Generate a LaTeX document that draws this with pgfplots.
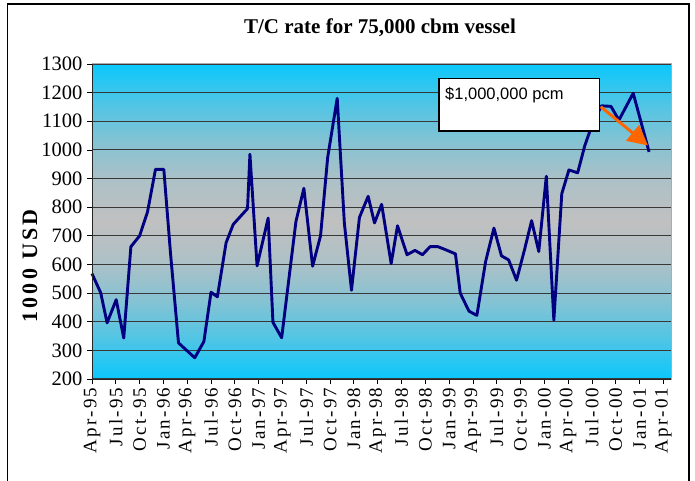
\documentclass[border=0pt]{standalone}
\usepackage{fontspec}
\setmainfont{Liberation Serif}
\newfontfamily\arialfont{Liberation Sans}
\newfontfamily\xtickfont[LetterSpace=12]{Liberation Serif}
\newfontfamily\ylabfont[LetterSpace=15]{Liberation Serif}
\usepackage{pgfplots}
\pgfplotsset{compat=1.18}
\usetikzlibrary{arrows.meta}
\definecolor{bgcyan}{RGB}{10,200,252}
\definecolor{bggray}{RGB}{192,192,192}
\definecolor{navyline}{RGB}{0,0,128}
\definecolor{arroworange}{RGB}{255,102,0}
\pgfdeclareverticalshading{excelgrad}{100bp}{%
 color(0bp)=(bgcyan); color(25bp)=(bgcyan);
 color(31.25bp)=(bggray!38!bgcyan); color(37.5bp)=(bggray!68!bgcyan);
 color(43.75bp)=(bggray!90!bgcyan); color(50bp)=(bggray);
 color(56.25bp)=(bggray!90!bgcyan); color(62.5bp)=(bggray!68!bgcyan);
 color(68.75bp)=(bggray!38!bgcyan); color(75bp)=(bgcyan); color(100bp)=(bgcyan)}
\begin{document}
\begin{tikzpicture}
\useasboundingbox (0,0) rectangle (695bp,481bp);
% outer frame
\draw[black, line width=1.6bp] (7.5bp,0bp) -- (7.5bp,477bp) -- (689bp,477bp) -- (689bp,0bp);
\begin{axis}[
  at={(92bp,102bp)}, anchor=south west,
  width=579.3bp, height=315bp, scale only axis,
  xmin=0, xmax=73, ymin=200, ymax=1300,
  ytick={200,300,...,1300},
  xtick={0,3,...,72},
  xticklabels={Apr-95,Jul-95,Oct-95,Jan-96,Apr-96,Jul-96,Oct-96,Jan-97,Apr-97,Jul-97,Oct-97,Jan-98,Apr-98,Jul-98,Oct-98,Jan-99,Apr-99,Jul-99,Oct-99,Jan-00,Apr-00,Jul-00,Oct-00,Jan-01,Apr-01},
  xtick pos=bottom, ytick pos=left,
  tick align=outside, major tick length=5bp,
  tick style={black, line width=0.8bp},
  ymajorgrids,
  major grid style={black!78, line width=1.1bp},
  axis line style={draw=gray!65, line width=1bp},
  axis background/.style={shading=excelgrad},
  /pgf/number format/assume math mode=true,
  /pgf/number format/1000 sep={},
  yticklabel style={font=\fontsize{20.5bp}{22bp}\selectfont, xshift=-1bp},
  xticklabel style={font=\fontsize{19bp}{21bp}\xtickfont, rotate=90, anchor=east, xshift=0bp},
  clip=false,
]
\addplot[navyline, line width=2.9bp, line join=round] coordinates {
(0,568) (1.1,501) (1.9,396) (3.05,477) (4.0,343) (4.9,662) (6.0,700) (7.0,784)
(8.0,932) (9.05,932) (9.9,637) (10.9,326) (12.95,274) (14.1,331) (15.0,503)
(15.8,487) (16.9,676) (17.8,740) (19.6,795) (19.9,985) (20.8,595) (22.2,762)
(22.8,398) (23.9,344) (25.7,750) (26.7,866) (27.8,594) (28.8,700) (29.7,974)
(30.9,1180) (31.8,745) (32.7,510) (33.7,764) (34.8,838) (35.6,745) (36.5,810)
(37.7,603) (38.5,735) (39.7,634) (40.7,649) (41.65,634) (42.6,662) (43.6,662)
(44.6,651) (45.8,637) (46.4,500) (47.5,437) (48.5,422) (49.6,610) (50.65,727)
(51.6,630) (52.5,616) (53.5,545) (54.5,651) (55.4,753) (56.3,645) (57.25,908)
(58.2,405) (59.2,847) (60.1,930) (61.2,920) (62.1,1015) (63.05,1090) (64.2,1154)
(65.4,1152) (66.4,1104) (68.2,1198) (70.2,993)
};
\draw[black!85, line width=1bp] (rel axis cs:0,0) -- (rel axis cs:0,1);
\draw[black!85, line width=1bp] (rel axis cs:0,0) -- (rel axis cs:1,0);
\end{axis}
% annotation box
\draw[black, line width=1.4bp, fill=white] (439bp,350bp) rectangle (599.3bp,402.3bp);
\node[anchor=west, inner sep=0pt, font=\fontsize{16.5bp}{18bp}\arialfont] at (445bp,386bp) {\$1,000,000 pcm};
\draw[arroworange, line width=3bp, -{Triangle[length=20bp,width=20bp]}] (600.7bp,374.3bp) -- (648bp,335.5bp);
% title and y label
\node[font=\fontsize{21bp}{24bp}\selectfont\bfseries] at (380bp,453.4bp) {T/C rate for 75,000 cbm vessel};
\node[rotate=90, font=\fontsize{22bp}{24bp}\ylabfont\bfseries] at (30bp,215bp) {1000 USD};
\end{tikzpicture}
\end{document}
